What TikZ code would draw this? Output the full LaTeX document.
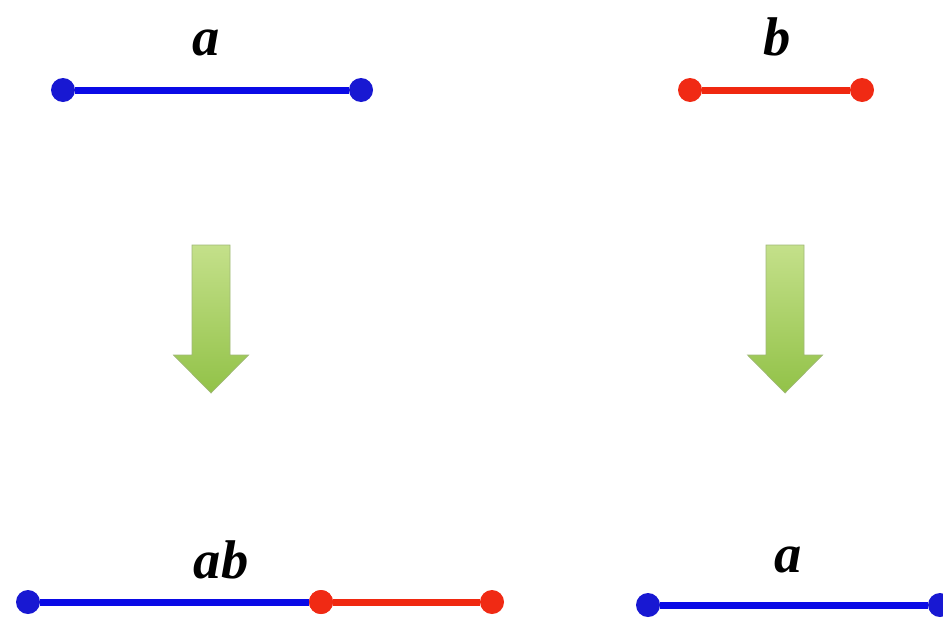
\documentclass[tikz,border=0pt]{standalone}
\usepackage{fontspec}
\setmainfont{Liberation Serif}[BoldItalicFont={Liberation Serif Bold Italic}]
\usepackage{tikz}
\usetikzlibrary{positioning}
\definecolor{segblue}{HTML}{0A0AE6}
\definecolor{dotblue}{HTML}{1818D2}
\definecolor{segred}{HTML}{F02810}
\definecolor{dotred}{HTML}{F02A14}
\definecolor{arrowtop}{HTML}{C4E08A}
\definecolor{arrowbot}{HTML}{92C248}
\definecolor{arrowrim}{HTML}{A0B878}

\begin{document}
\begin{tikzpicture}[
    every node/.style={font=\fontsize{31}{35}\selectfont\bfseries\itshape},
    bdot/.style={circle, fill=dotblue, inner sep=0pt, minimum size=0.48cm},
    rdot/.style={circle, fill=dotred, inner sep=0pt, minimum size=0.48cm},
    bseg/.style={line width=1.4mm, color=segblue},
    rseg/.style={line width=1.4mm, color=segred},
    lab/.style={inner sep=0pt, anchor=base},
    bigarrow/.style={top color=arrowtop, bottom color=arrowbot, draw=arrowrim, line width=0.4pt}
]
\useasboundingbox (0,0) rectangle (18.86,12.34);

% Top segments
\node[bdot] (a1) at (1.26,10.54) {};
\node[bdot] (a2) at (7.22,10.54) {};
\node[rdot] (b1) at (13.80,10.54) {};
\node[rdot] (b2) at (17.24,10.54) {};
\draw[bseg] (a1) -- (a2);
\draw[rseg] (b1) -- (b2);
\node[lab] (la) at (4.12,11.24) {a};
\node[lab] (lb) at (15.54,11.24) {b};

% Arrows
\shade[bigarrow] (3.84,7.44) -- (4.60,7.44) -- (4.60,5.24) -- (4.97,5.24)
    -- (4.22,4.48) -- (3.47,5.24) -- (3.84,5.24) -- cycle;
\shade[bigarrow] (15.32,7.44) -- (16.08,7.44) -- (16.08,5.24) -- (16.45,5.24)
    -- (15.70,4.48) -- (14.95,5.24) -- (15.32,5.24) -- cycle;

% Bottom left: ab
\node[bdot] (c1) at (0.56,0.30) {};
\node[rdot] (c2) at (6.42,0.30) {};
\node[rdot] (c3) at (9.84,0.30) {};
\draw[bseg] (c1) -- (c2);
\draw[rseg] (c2) -- (c3);
\node[rdot] at (c2) {};
\node[lab] (lab) at (4.42,0.78) {ab};

% Bottom right: a
\node[bdot] (d1) at (12.96,0.24) {};
\node[bdot] (d2) at (18.80,0.24) {};
\draw[bseg] (d1) -- (d2);
\node[lab] (lda) at (15.76,0.90) {a};
\end{tikzpicture}
\end{document}
